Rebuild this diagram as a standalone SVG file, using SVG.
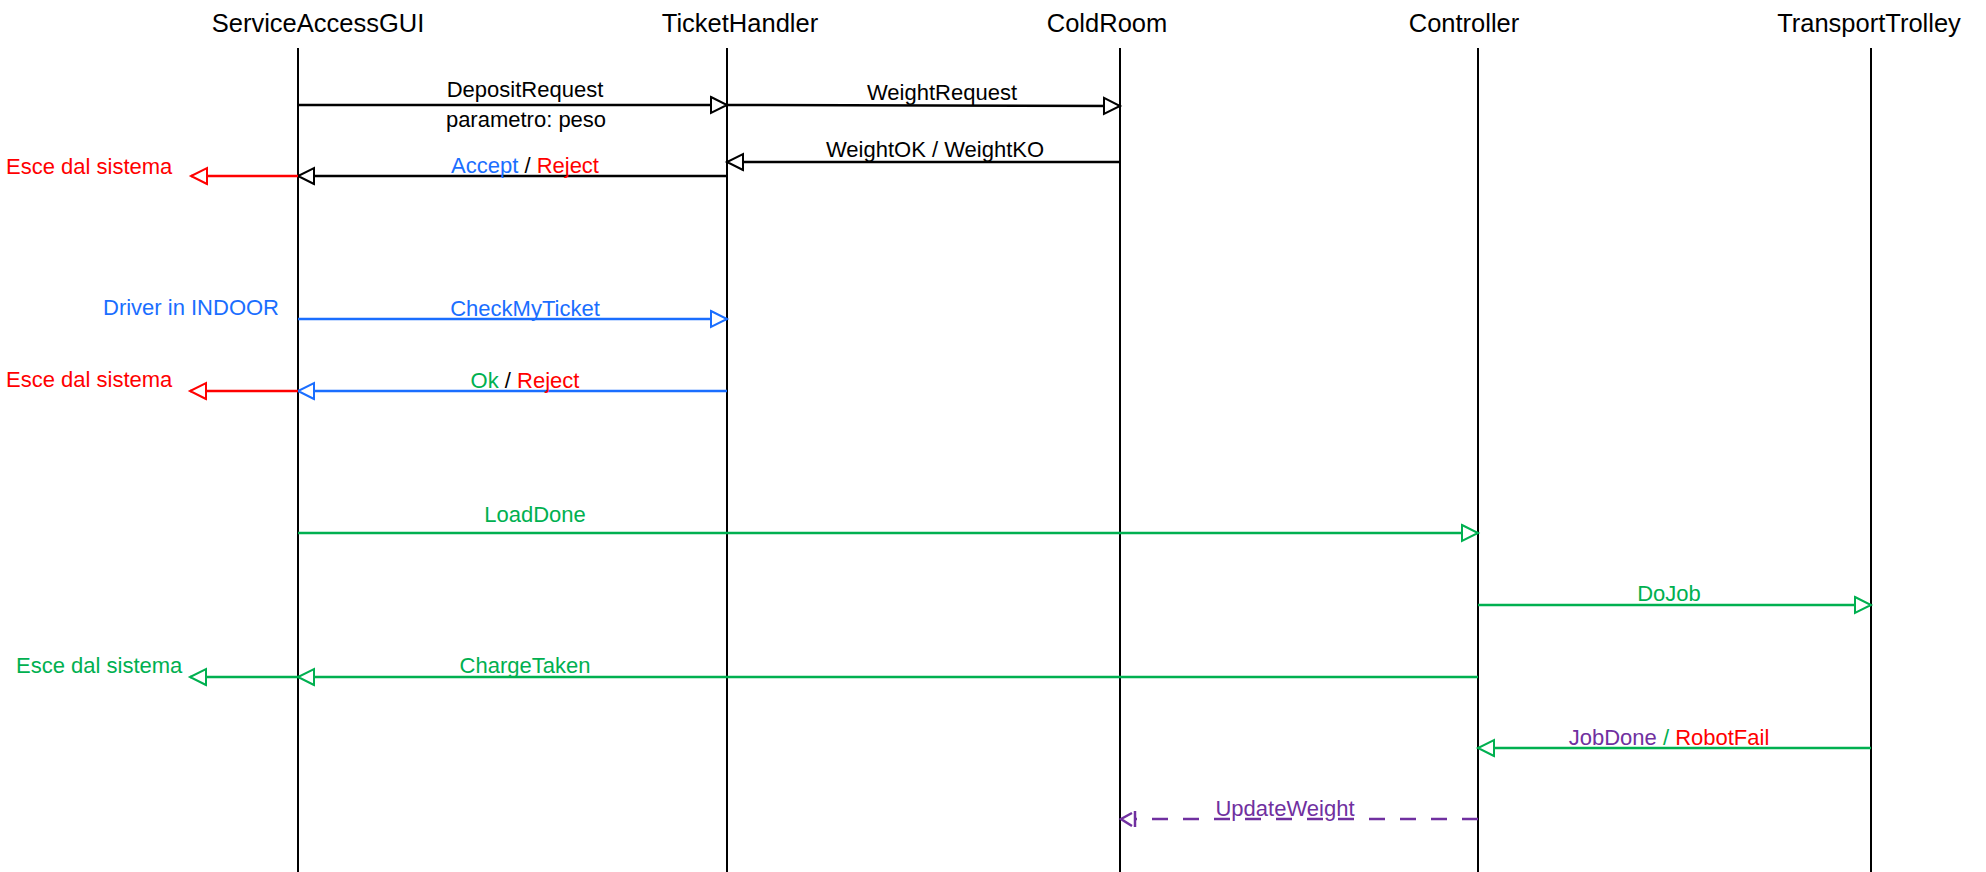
<svg xmlns="http://www.w3.org/2000/svg" width="1986" height="872" viewBox="0 0 1986 872">
<style>
text{font-family:"Liberation Sans",Arial,sans-serif;}
.title{font-size:25.5px;fill:#000;text-anchor:middle;}
.lbl{font-size:22px;text-anchor:middle;}
.exit{font-size:22px;}
.life{stroke:#000;stroke-width:2;}
.msg{fill:none;stroke-width:2.5;}
.k{stroke:#000;} .b{stroke:#1A6EFF;} .g{stroke:#00B050;} .r{stroke:#FF0000;} .p{stroke:#7030A0;}
.tk{fill:#000;} .tb{fill:#1A6EFF;} .tg{fill:#00B050;} .tr{fill:#FF0000;} .tp{fill:#7030A0;}
</style>
<defs>
<marker id="ak" markerUnits="userSpaceOnUse" markerWidth="20" markerHeight="20" refX="16" refY="8" orient="auto" overflow="visible"><path d="M0,0 L16,8 L0,16 Z" fill="#fff" stroke="#000" stroke-width="2"/></marker>
<marker id="ab" markerUnits="userSpaceOnUse" markerWidth="20" markerHeight="20" refX="16" refY="8" orient="auto" overflow="visible"><path d="M0,0 L16,8 L0,16 Z" fill="#fff" stroke="#1A6EFF" stroke-width="2"/></marker>
<marker id="ag" markerUnits="userSpaceOnUse" markerWidth="20" markerHeight="20" refX="16" refY="8" orient="auto" overflow="visible"><path d="M0,0 L16,8 L0,16 Z" fill="#fff" stroke="#00B050" stroke-width="2"/></marker>
<marker id="ar" markerUnits="userSpaceOnUse" markerWidth="20" markerHeight="20" refX="16" refY="8" orient="auto" overflow="visible"><path d="M0,0 L16,8 L0,16 Z" fill="#fff" stroke="#FF0000" stroke-width="2"/></marker>
</defs>
<rect width="1986" height="872" fill="#fff"/>

<g id="ServiceAccessGUI"><text class="title" x="318" y="32">ServiceAccessGUI</text><line class="life" x1="298" y1="48" x2="298" y2="872"/></g>
<g id="TicketHandler"><text class="title" x="740" y="32">TicketHandler</text><line class="life" x1="727" y1="48" x2="727" y2="872"/></g>
<g id="ColdRoom"><text class="title" x="1107" y="32">ColdRoom</text><line class="life" x1="1120" y1="48" x2="1120" y2="872"/></g>
<g id="Controller"><text class="title" x="1464" y="32">Controller</text><line class="life" x1="1478" y1="48" x2="1478" y2="872"/></g>
<g id="TransportTrolley"><text class="title" x="1869" y="32">TransportTrolley</text><line class="life" x1="1871" y1="48" x2="1871" y2="872"/></g>

<g id="connectors">
<line class="msg k" x1="298" y1="105" x2="727" y2="105" marker-end="url(#ak)"/>
<text class="lbl tk" x="525" y="97">DepositRequest</text>
<text class="lbl tk" x="526" y="127">parametro: peso</text>

<line class="msg k" x1="727" y1="105" x2="1120" y2="106" marker-end="url(#ak)"/>
<text class="lbl tk" x="942" y="100">WeightRequest</text>

<line class="msg k" x1="1120" y1="162" x2="727" y2="162" marker-end="url(#ak)"/>
<text class="lbl tk" x="935" y="157">WeightOK / WeightKO</text>

<line class="msg k" x1="727" y1="176" x2="298" y2="176" marker-end="url(#ak)"/>
<text class="lbl" x="525" y="173"><tspan class="tb">Accept</tspan><tspan class="tk"> / </tspan><tspan class="tr">Reject</tspan></text>
<line class="msg r" x1="298" y1="176" x2="191" y2="176" marker-end="url(#ar)"/>
<text class="exit tr" x="6" y="174">Esce dal sistema</text>

<line class="msg b" x1="298" y1="319" x2="727" y2="319" marker-end="url(#ab)"/>
<text class="lbl tb" x="525" y="316">CheckMyTicket</text>
<text class="exit tb" x="103" y="315">Driver in INDOOR</text>

<line class="msg b" x1="727" y1="391" x2="298" y2="391" marker-end="url(#ab)"/>
<text class="lbl" x="525" y="388"><tspan class="tg">Ok</tspan><tspan class="tk"> / </tspan><tspan class="tr">Reject</tspan></text>
<line class="msg r" x1="298" y1="391" x2="190" y2="391" marker-end="url(#ar)"/>
<text class="exit tr" x="6" y="387">Esce dal sistema</text>

<line class="msg g" x1="298" y1="533" x2="1478" y2="533" marker-end="url(#ag)"/>
<text class="lbl tg" x="535" y="522">LoadDone</text>

<line class="msg g" x1="1478" y1="605" x2="1871" y2="605" marker-end="url(#ag)"/>
<text class="lbl tg" x="1669" y="601">DoJob</text>

<line class="msg g" x1="1478" y1="677" x2="298" y2="677" marker-end="url(#ag)"/>
<text class="lbl tg" x="525" y="673">ChargeTaken</text>
<line class="msg g" x1="298" y1="677" x2="190" y2="677" marker-end="url(#ag)"/>
<text class="exit tg" x="16" y="673">Esce dal sistema</text>

<line class="msg g" x1="1871" y1="748" x2="1478" y2="748" marker-end="url(#ag)"/>
<text class="lbl" x="1669" y="745"><tspan class="tp">JobDone</tspan><tspan class="tg"> / </tspan><tspan class="tr">RobotFail</tspan></text>

<line class="msg p" x1="1478" y1="819" x2="1136" y2="819" stroke-dasharray="16,15" stroke-width="3"/>
<polyline class="p" points="1132,813 1121,819 1132,826" fill="none" stroke-width="2.5"/>
<line class="p" x1="1135" y1="811" x2="1135" y2="827" stroke-width="2.5"/>
<text class="lbl tp" x="1285" y="816">UpdateWeight</text>
</g>
</svg>
